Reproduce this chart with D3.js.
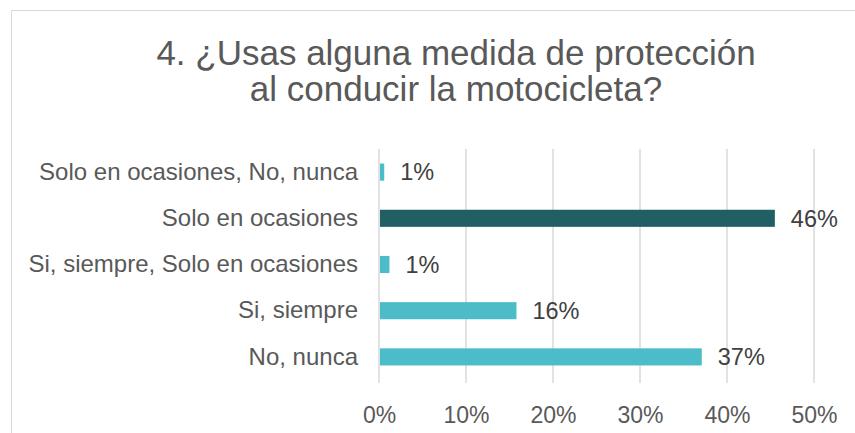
<!DOCTYPE html>
<html>
<head>
<meta charset="utf-8">
<script src="https://cdn.jsdelivr.net/npm/d3@7"></script>
<style>
  body { margin: 0; background: #fff; }
  svg text { font-family: "Liberation Sans", Arial, sans-serif; }
</style>
</head>
<body>
<div id="chart"></div>
<script>
// datos
const categorias = [
    "Solo en ocasiones, No, nunca",
    "Solo en ocasiones",
    "Si, siempre, Solo en ocasiones",
    "Si, siempre",
    "No, nunca"
];
const valores = [0.006, 0.455, 0.012, 0.158, 0.371];
const etiquetas = ["1%", "46%", "1%", "16%", "37%"];
const ticks = [0, 0.1, 0.2, 0.3, 0.4, 0.5];
const tituloLineas = ["4. ¿Usas alguna medida de protección", "al conducir la motocicleta?"];

const width = 855, height = 433;
const margin = { left: 379, right: 41, top: 149, bottom: 53 };

const svg = d3.select("#chart").append("svg")
    .attr("width", width)
    .attr("height", height);

// borde del área del gráfico
svg.append("rect")
    .attr("x", 11.5).attr("y", 10.5)
    .attr("width", 900).attr("height", 500)
    .attr("fill", "#fff")
    .attr("stroke", "#d9d9d9");

// título
svg.append("text")
    .attr("text-anchor", "middle")
    .attr("fill", "#595959")
    .attr("font-size", 35)
    .selectAll("tspan")
    .data(tituloLineas)
    .enter()
    .append("tspan")
    .attr("x", 456)
    .attr("y", (d, i) => 65 + i * 36)
    .text(d => d);

const x = d3.scaleLinear()
    .domain([0, 0.5])
    .range([margin.left, width - margin.right]);

const y = d3.scaleBand()
    .domain(categorias)
    .range([margin.top, height - margin.bottom])
    .paddingInner(0.63)
    .paddingOuter(0.315);

// líneas de cuadrícula
svg.append("g")
    .selectAll("line")
    .data(ticks)
    .enter()
    .append("line")
    .attr("x1", d => x(d)).attr("x2", d => x(d))
    .attr("y1", margin.top).attr("y2", height - margin.bottom + 3)
    .attr("stroke", "#d9d9d9")
    .attr("stroke-width", 1.5);

// eje X
const xAxis = svg.append("g")
    .attr("transform", `translate(0,${height - margin.bottom})`)
    .call(d3.axisBottom(x).tickValues(ticks).tickFormat(d3.format(".0%")).tickSize(0).tickPadding(27));
xAxis.select(".domain").remove();
xAxis.selectAll("text")
    .attr("fill", "#595959")
    .attr("font-size", 23)
    .attr("font-family", "Liberation Sans, Arial, sans-serif");

// eje Y
const yAxis = svg.append("g")
    .attr("transform", `translate(${margin.left},0)`)
    .call(d3.axisLeft(y).tickSize(0).tickPadding(21));
yAxis.select(".domain").remove();
yAxis.selectAll("text")
    .attr("fill", "#595959")
    .attr("font-size", 24)
    .attr("font-family", "Liberation Sans, Arial, sans-serif");

// barras
svg.append("g")
    .selectAll("rect")
    .data(valores)
    .enter()
    .append("rect")
    .attr("x", x(0) + 1)
    .attr("y", (d, i) => y(categorias[i]))
    .attr("width", d => x(d) - x(0) - 1)
    .attr("height", y.bandwidth())
    .attr("fill", (d, i) => i === 1 ? "#215f65" : "#4bbcc8");

// etiquetas de datos
svg.append("g")
    .selectAll("text")
    .data(valores)
    .enter()
    .append("text")
    .attr("x", d => x(d) + 16)
    .attr("y", (d, i) => y(categorias[i]) + y.bandwidth() / 2)
    .attr("dy", "0.35em")
    .attr("fill", "#404040")
    .attr("font-size", 23.5)
    .text((d, i) => etiquetas[i]);
</script>
</body>
</html>
